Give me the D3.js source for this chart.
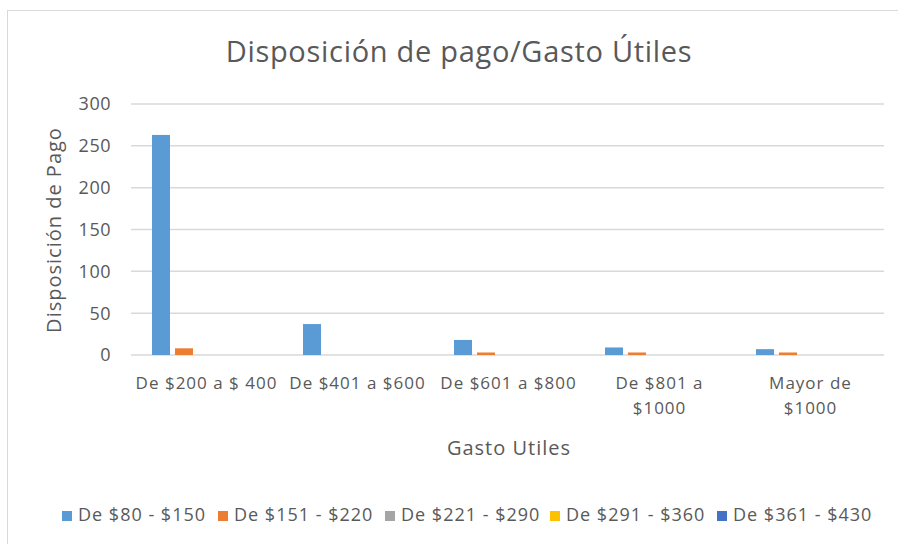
<!DOCTYPE html>
<html>
<head>
<meta charset="utf-8">
<script src="https://cdn.jsdelivr.net/npm/d3@7"></script>
<style>
  body { margin: 0; background: #fff; }
  text { font-family: "Open Sans", "DejaVu Sans", sans-serif; fill: #595959; }
</style>
</head>
<body>
<svg id="chart" width="898" height="544"></svg>
<script>
// categories (x axis) - each entry is a list of lines
var categories = [
    ["De $200 a $ 400"],
    ["De $401 a $600"],
    ["De $601 a $800"],
    ["De $801 a", "$1000"],
    ["Mayor de", "$1000"]
];

// series names, shown in the legend
var seriesNames = ["De $80 - $150", "De $151 - $220", "De $221 - $290", "De $291 - $360", "De $361 - $430"];

// values per series, one per category
var s80_150  = [263, 37, 18, 9, 7];
var s151_220 = [8, 0, 3, 3, 3];
var s221_290 = [0, 0, 0, 0, 0];
var s291_360 = [0, 0, 0, 0, 0];
var s361_430 = [0, 0, 0, 0, 0];

var yTicks = [0, 50, 100, 150, 200, 250, 300];

var colors = ["#5B9BD5", "#ED7D31", "#A5A5A5", "#FFC000", "#4472C4"];

var seriesValues = [s80_150, s151_220, s221_290, s291_360, s361_430];

var svg = d3.select("#chart");

// chart frame
svg.append("rect")
    .attr("x", 7.5).attr("y", 10.5)
    .attr("width", 1000).attr("height", 1000)
    .attr("fill", "none")
    .attr("stroke", "#D9D9D9")
    .attr("stroke-width", 1);

// plot area
var plot = {left: 131, right: 886, top: 104, bottom: 355};

var x = d3.scaleBand()
    .domain(d3.range(categories.length))
    .range([plot.left, plot.right])
    .padding(0);

// bars inside a category
var xs = d3.scaleBand()
    .domain(d3.range(seriesNames.length))
    .range([21, x.bandwidth() - 20])
    .paddingInner(5 / 23)
    .paddingOuter(0);

var y = d3.scaleLinear()
    .domain([0, 300])
    .range([plot.bottom, plot.top]);

// gridlines
svg.append("g")
    .selectAll("line")
    .data(yTicks)
    .join("line")
    .attr("x1", plot.left).attr("x2", plot.right - 2)
    .attr("y1", function(d) { return y(d); })
    .attr("y2", function(d) { return y(d); })
    .attr("stroke", "#D9D9D9")
    .attr("stroke-width", 1.5);

// y tick labels
svg.append("g")
    .selectAll("text")
    .data(yTicks)
    .join("text")
    .attr("x", 111)
    .attr("y", function(d) { return y(d); })
    .attr("dy", "0.36em")
    .attr("text-anchor", "end")
    .style("font-size", "18px")
    .style("letter-spacing", "0.5px")
    .text(function(d) { return d; });

// bars
var groups = svg.append("g")
    .selectAll("g")
    .data(seriesValues)
    .join("g")
    .attr("fill", function(d, i) { return colors[i]; });

groups.each(function(vals, si) {
    d3.select(this).selectAll("rect")
        .data(vals)
        .join("rect")
        .attr("x", function(d, ci) { return x(ci) + xs(si); })
        .attr("width", xs.bandwidth())
        .attr("y", function(d) { return y(d); })
        .attr("height", function(d) { return y(0) - y(d); });
});

// category labels
var catLabels = svg.append("g")
    .selectAll("text")
    .data(categories)
    .join("text")
    .attr("x", function(d, i) { return x(i) + x.bandwidth() / 2; })
    .attr("y", 389)
    .attr("text-anchor", "middle")
    .style("font-size", "17px")
    .style("letter-spacing", "1px");

catLabels.selectAll("tspan")
    .data(function(d) { return d; })
    .join("tspan")
    .attr("x", function() { return d3.select(this.parentNode).attr("x"); })
    .attr("dy", function(d, i) { return i === 0 ? 0 : 25; })
    .text(function(d) { return d; });

// title
svg.append("text")
    .attr("x", 459)
    .attr("y", 62)
    .attr("text-anchor", "middle")
    .style("font-size", "29px")
    .style("letter-spacing", "0.7px")
    .text("Disposición de pago/Gasto Útiles");

// axis titles
svg.append("text")
    .attr("x", 509)
    .attr("y", 455)
    .attr("text-anchor", "middle")
    .style("font-size", "20px")
    .style("letter-spacing", "1px")
    .text("Gasto Utiles");

svg.append("text")
    .attr("transform", "translate(61,230) rotate(-90)")
    .attr("text-anchor", "middle")
    .style("font-size", "20px")
    .style("letter-spacing", "1px")
    .text("Disposición de Pago");

// legend
var legendX = [62, 218, 385, 550, 717];
var legend = svg.append("g")
    .selectAll("g")
    .data(seriesNames)
    .join("g")
    .attr("transform", function(d, i) { return "translate(" + legendX[i] + ",516)"; });

legend.append("rect")
    .attr("x", 0).attr("y", -5)
    .attr("width", 10).attr("height", 10)
    .attr("fill", function(d, i) { return colors[i]; });

legend.append("text")
    .attr("x", 16)
    .attr("y", 5)
    .style("font-size", "18px")
    .style("letter-spacing", "1px")
    .text(function(d) { return d; });
</script>
</body>
</html>
